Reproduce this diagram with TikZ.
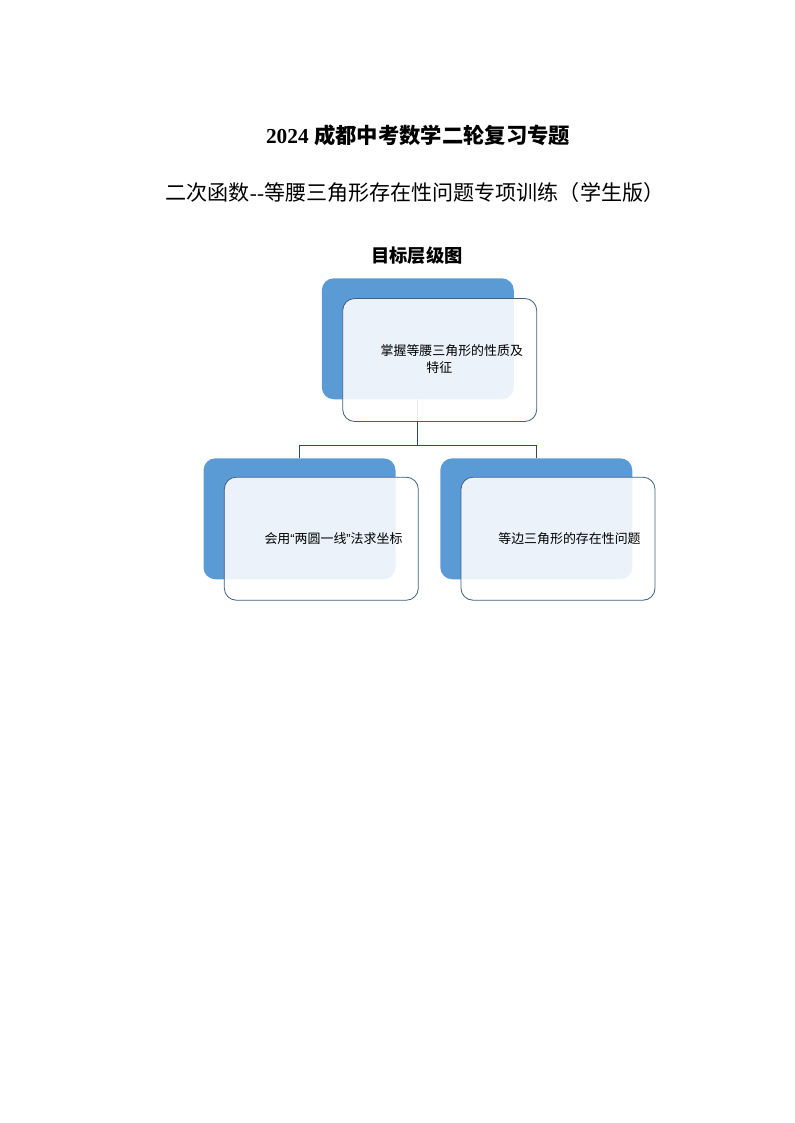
\documentclass[tikz,border=0pt]{standalone}
\usepackage{fontspec}
\setmainfont{Liberation Serif}
\newfontfamily\cjk{Noto Sans CJK SC}
\newfontfamily\lsans{Liberation Sans}
\definecolor{accblue}{HTML}{5B9BD5}
\definecolor{edgeblue}{HTML}{41607F}
\definecolor{linecol}{HTML}{2F4A66}
\begin{document}
\begin{tikzpicture}[x=0.75pt,y=-0.75pt,
  backbox/.style={rectangle,rounded corners=9pt,fill=accblue,draw=none,minimum width=192*0.75pt,minimum height=121*0.75pt,inner sep=0pt},
  frontbox/.style={rectangle,rounded corners=9pt,fill=white,fill opacity=0.88,draw=edgeblue,line width=0.6pt,minimum width=194*0.75pt,minimum height=123*0.75pt,inner sep=0pt},
  boxtext/.style={font=\cjk\fontsize{9.7pt}{12.8pt}\selectfont,align=center,text=black,inner sep=0pt},
  conn/.style={draw=linecol,line width=0.8pt}
]
\useasboundingbox (0,0) rectangle (794,1123);
\node[font=\bfseries\fontsize{16pt}{18pt}\selectfont] (title) at (418,135) {2024 {\cjk\bfseries 成都中考数学二轮复习专题}};
\node[font=\fontsize{15.8pt}{18pt}\selectfont] (subtitle) at (415,192) {{\cjk 二次函数}-{}-{\cjk 等腰三角形存在性问题专项训练（学生版）}};
\node[font=\cjk\bfseries\fontsize{13.7pt}{16pt}\selectfont] (heading) at (417,256) {目标层级图};

\node[backbox] (topb) at (417.8,338.8) {};
\node[backbox] (leftb) at (299.5,518.8) {};
\node[backbox] (rightb) at (536.3,518.8) {};

\coordinate (junc) at (topb.south |- 0,445.7);
\draw[conn] (topb.south) -- (junc);
\draw[conn] (leftb.north) |- (junc) -| (rightb.north);

\node[frontbox] (topf) at (439.7,360) {};
\node[frontbox] (leftf) at (321.3,538.7) {};
\node[frontbox] (rightf) at (558,538.7) {};

\node[boxtext] (toptext) at (451.8,359.5) {掌握等腰三角形的性质及\\特征\hspace*{18.75pt}};
\node[boxtext] (lefttext) at (333.5,538.3) {会用{\lsans “}两圆一线{\lsans ”}法求坐标};
\node[boxtext] (righttext) at (569.5,538.3) {等边三角形的存在性问题};
\end{tikzpicture}
\end{document}
